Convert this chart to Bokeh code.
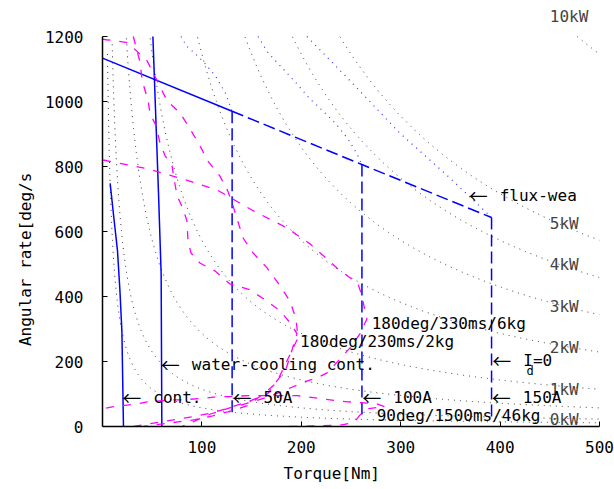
import numpy as np
from bokeh.plotting import figure
from bokeh.models import Label, Range1d, FixedTicker
from bokeh.embed import file_html
from bokeh.resources import INLINE

FONT = "DejaVu Sans Mono"
ARROW_FONT = "Noto Sans CJK JP"
NB = "\u00a0"

x_ticks = [100, 200, 300, 400, 500]
y_ticks = [0, 200, 400, 600, 800, 1000, 1200]
y_max = 1200

# constant-power reference levels (kW) and labelled ones
power_kw = [0.1, 0.2, 0.5, 1, 2, 3, 4, 5, 10]
power_label_kw = [0, 1, 2, 3, 4, 5, 10]
power_label_T = 450

# motor limits
cont_T = [7.7, 11.5, 15.1, 17.5, 19.5, 21.1]
cont_w = [748, 640, 540, 420, 294, 0]
water_T = [50.7, 56.3, 59.0, 59.7]
water_w = [1200, 722, 470, 0]
id0_T = [0, 130.4, 261.0, 391.4]
id0_w = [1133.5, 970, 806, 643]
current_A = [50, 100, 150]
current_T = [130.4, 261.0, 391.4]
current_bottom_w = [30, 33, 30]

fw50_T = [79, 84.7, 93.7, 103.7, 113.7, 123.7, 130.4]
fw50_w = [1200, 1170, 1146, 1115, 1078, 1026, 970]
fw100_T = [156.5, 166.5, 180.6, 195.7, 208.7, 223.8, 233.9, 247, 256, 261]
fw100_w = [1200, 1150, 1104, 1054, 1008, 965, 934, 885, 839, 806]
fw150_T = [205.7, 249, 299, 349.4, 391.4]
fw150_w = [1200, 1064, 903, 765, 643]

# task trajectories (torque Nm, angular rate deg/s)
t6_T = [0.7, 44.9, 80.1, 115.3, 151.5, 185.6, 208.7, 235.9, 257, 261, 264, 266,
        259, 249, 239, 226, 216, 207, 190, 170, 150, 128, 110, 80]
t6_w = [820, 793, 762, 728, 664, 611, 562, 488, 439, 402, 356, 331,
        285, 242, 208, 165, 150, 141, 120, 95, 75, 57, 40, 0]
t2a_T = [0, 3.7, 12.8, 24.8, 30.9, 44.9, 55, 65, 78, 88, 98, 106, 118, 126,
         131.4, 141.4, 151.5, 165.5, 178.6, 188.6, 194.7, 196.7, 190, 175, 163, 146, 126, 111, 93, 41]
t2a_w = [1192, 1190, 1187, 1181, 1165, 1125, 1064, 1002, 965, 916, 864, 817, 771, 725,
         678, 580, 534, 488, 433, 386, 331, 273, 230, 134, 103, 64, 45, 33, 21, 0]
t2b_T = [31, 37.9, 39.9, 45.9, 47.9, 54, 58, 63, 70, 72, 75, 81, 85, 86, 89, 98,
         113, 128, 148, 163.5, 178.6, 189.6, 195.7, 185, 166, 146, 128, 110, 90, 31]
t2b_w = [1200, 1119, 1064, 1002, 962, 925, 870, 833, 802, 762, 710, 670, 632, 571,
         534, 503, 479, 439, 421, 390, 356, 316, 285, 180, 100, 76, 58, 42, 30, 0]
t46_T = [188, 218, 241, 253, 260, 268, 284, 276, 247, 236, 222, 206, 196, 147, 128,
         115, 105, 81, 71, 45, 36, 11, 0.7]
t46_w = [0, 2, 5, 12, 39, 55, 61, 70, 76, 79, 85, 91, 95, 95, 92, 92, 88, 82, 82, 76,
         70, 61, 55]

p = figure(width=614, height=489, output_backend="svg", toolbar_location=None,
           x_range=Range1d(0, 500), y_range=Range1d(0, 1295.4),
           min_border_left=102, min_border_right=15, min_border_top=5,
           min_border_bottom=63)
p.outline_line_color = None
p.grid.visible = False
p.background_fill_color = "white"
p.border_fill_color = "white"

for ax in (p.xaxis[0], p.yaxis[0]):
    ax.major_label_text_font = FONT
    ax.major_label_text_font_size = "16px"
    ax.major_label_text_color = "black"
    ax.axis_line_color = "black"
    ax.axis_line_width = 1.5
    ax.major_tick_in = 5
    ax.major_tick_out = 0
    ax.minor_tick_line_color = None
    ax.major_tick_line_color = "black"
    ax.axis_label_text_font = FONT
    ax.axis_label_text_font_size = "16px"
    ax.axis_label_text_font_style = "normal"
    ax.axis_label_text_color = "black"
p.xaxis[0].ticker = FixedTicker(ticks=x_ticks)
p.yaxis[0].ticker = FixedTicker(ticks=y_ticks)
p.yaxis[0].bounds = (0, y_max)
p.xaxis[0].major_label_standoff = 14
p.yaxis[0].major_label_standoff = 19
p.xaxis[0].axis_label = "Torque[Nm]" + NB * 4
p.yaxis[0].axis_label = "Angular rate[deg/s" + NB * 9
p.xaxis[0].axis_label_standoff = 8
p.yaxis[0].axis_label_standoff = 7

# constant power curves (clipped at the top of the axis)
Tg = np.linspace(0.5, 500, 2000)
for P in power_kw:
    w = P * 1000.0 / Tg * 180.0 / np.pi
    m = w <= y_max
    p.line(Tg[m], w[m], line_color="black", line_dash="1 5", line_width=1, line_alpha=0.8)

for P in power_label_kw:
    wl = P * 1000.0 / power_label_T * 180.0 / np.pi
    yl = max(wl - 12, 22)
    p.add_layout(Label(x=power_label_T, y=yl, text=f"{P}kW", text_font=FONT,
                       text_font_size="16px", text_baseline="middle", text_align="left"))

# flux weakening curves
for tt, ww in ((fw50_T, fw50_w), (fw100_T, fw100_w), (fw150_T, fw150_w)):
    p.line(tt, ww, line_color="blue", line_dash="1 5", line_width=1.2, line_alpha=0.8)

# limits
p.line(cont_T, cont_w, line_color="blue", line_width=1.5)
p.line(water_T, water_w, line_color="blue", line_width=1.5)
p.line(id0_T[:2], id0_w[:2], line_color="blue", line_width=1.5)
p.line(id0_T[1:], id0_w[1:], line_color="blue", line_width=1.5, line_dash="12 5")
for tt, top, bot in zip(current_T, id0_w[1:], current_bottom_w):
    p.line([tt, tt], [top, bot], line_color="blue", line_width=1.5, line_dash="12 5")

# trajectories
for tt, ww in ((t6_T, t6_w), (t2a_T, t2a_w), (t2b_T, t2b_w), (t46_T, t46_w)):
    p.line(tt, ww, line_color="magenta", line_width=1.3, line_dash="8 9")


def lab(x, y, text, size="16px", font=FONT):
    p.add_layout(Label(x=x, y=y, text=text, text_font=font, text_font_size=size,
                       text_baseline="middle", text_align="left", text_color="black"))


def arrow_lab(x, y, text):
    lab(x - 1, y + 2, "\u2190", "19px", ARROW_FONT)
    lab(x + 30.2, y, text)


arrow_lab(20.9, 88, "cont.")
arrow_lab(59.7, 190, "water-cooling cont.")
for tt, a in zip(current_T, current_A):
    arrow_lab(tt + 1.3, 88, f"{a}A")
arrow_lab(393, 202, "I")
lab(426.5, 171, "d", "12px")
lab(433, 202, "=0")
arrow_lab(369.4, 710, "flux-wea")
lab(270.8, 317.5, "180deg/330ms/6kg")
lab(198.7, 262, "180deg/230ms/2kg")
lab(275.8, 33, "90deg/1500ms/46kg")

open("out.html", "w").write(file_html(p, INLINE))
